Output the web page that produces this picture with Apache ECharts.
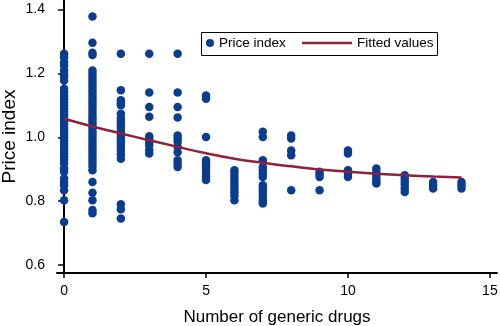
<!DOCTYPE html>
<html>
<head>
<meta charset="utf-8">
<script src="https://cdn.jsdelivr.net/npm/echarts@6/dist/echarts.min.js"></script>
<style>
    html, body { margin: 0; padding: 0; background: #fff; }
    #chart { width: 500px; height: 326px; }
</style>
</head>
<body>
<div id="chart"></div>
<script>
// price index, one list per number of generic drugs
const drugs0 = [1.262,1.251,1.235,1.225,1.209,1.199,1.191,1.178,1.152,1.14,1.13,1.12,1.11,1.10,1.09,1.08,1.07,1.06,1.05,1.04,1.03,1.02,1.01,1.00,0.99,0.98,0.97,0.96,0.95,0.94,0.93,0.918,0.902,0.892,0.871,0.860,0.850,0.834,0.803,0.735];
const drugs1 = [1.378,1.296,1.265,1.258,1.209,1.199,1.19,1.18,1.17,1.16,1.15,1.14,1.13,1.12,1.11,1.10,1.09,1.08,1.07,1.06,1.05,1.04,1.03,1.02,1.01,1.00,0.99,0.98,0.97,0.96,0.95,0.94,0.93,0.92,0.91,0.897,0.86,0.826,0.803,0.772,0.762];
const drugs2 = [1.262,1.147,1.116,1.107,1.10,1.074,1.06,1.05,1.04,1.03,1.02,1.01,1.00,0.99,0.98,0.97,0.96,0.947,0.933,0.79,0.775,0.746];
const drugs3 = [1.262,1.14,1.095,1.064,1.003,0.995,0.985,0.975,0.96,0.949];
const drugs4 = [1.262,1.14,1.095,1.062,1.006,0.996,0.986,0.97,0.953,0.928,0.918,0.907];
const drugs5 = [1.131,1.121,1.001,0.928,0.918,0.908,0.898,0.888,0.877,0.866];
const drugs6 = [0.897,0.887,0.877,0.867,0.857,0.847,0.837,0.827,0.817,0.803];
const drugs7 = [1.017,1.001,0.928,0.907,0.897,0.887,0.876,0.85,0.84,0.83,0.82,0.81,0.80,0.793];
const drugs8 = [1.006,0.996,0.959,0.944,0.834];
const drugs9 = [0.892,0.884,0.876,0.834];
const drugs10 = [0.959,0.949,0.897,0.887,0.876];
const drugs11 = [0.902,0.892,0.882,0.872,0.862,0.855];
const drugs12 = [0.881,0.871,0.861,0.851,0.84,0.829];
const drugs13 = [0.86,0.85,0.84];
const drugs14 = [0.86,0.85,0.84];
const priceByDrugs = [drugs0,drugs1,drugs2,drugs3,drugs4,drugs5,drugs6,drugs7,drugs8,drugs9,drugs10,drugs11,drugs12,drugs13,drugs14];

// fitted curve, read at each whole number of generics
const fitX = [0,1,2,3,4,5,6,7,8,9,10,11,12,13,14];
const fitY = [1.058,1.034,1.012,0.991,0.970,0.950,0.933,0.920,0.909,0.899,0.892,0.886,0.881,0.877,0.874];

const xTicks = [0,5,10,15];
const yTicks = [0.6,0.8,1.0,1.2,1.4];

let scatterData = [];
priceByDrugs.forEach((list, n) => {
    list.forEach(v => scatterData.push([n, v]));
});
let lineData = fitX.map((x, i) => [x, fitY[i]]);

const dotColor = '#0B3D8F';
const lineColor = '#8E2239';
const font = 'Liberation Sans, Arial, sans-serif';

const myChart = echarts.init(document.getElementById('chart'));
myChart.setOption({
    backgroundColor: '#fff',
    animation: false,
    grid: {
        left: 57,
        right: 3,
        top: 0,
        bottom: 53,
        containLabel: false,
        outerBoundsMode: 'none'
    },
    graphic: [{
        type: 'rect',
        left: 201,
        top: 32,
        shape: { width: 236, height: 23 },
        style: { fill: '#fff', stroke: '#000', lineWidth: 1 },
        z: 0
    }],
    legend: [{
        data: [{ name: 'Price index', icon: 'circle' }],
        left: 206,
        top: 36,
        padding: 0,
        itemWidth: 8,
        itemHeight: 8,
        textStyle: { fontFamily: font, fontSize: 13.5, color: '#000' },
        z: 5
    }, {
        data: [{ name: 'Fitted values', icon: 'rect' }],
        left: 302,
        top: 36,
        padding: 0,
        itemWidth: 50,
        itemHeight: 2.5,
        textStyle: { fontFamily: font, fontSize: 13.5, color: '#000' },
        z: 5
    }],
    xAxis: {
        type: 'value',
        min: -0.25,
        max: 15.25,
        name: 'Number of generic drugs',
        nameLocation: 'middle',
        nameGap: 36,
        nameMoveOverlap: false,
        nameTextStyle: { fontFamily: font, fontSize: 17, color: '#000' },
        axisLine: { lineStyle: { color: '#000', width: 2 } },
        axisTick: { customValues: xTicks, length: 5, lineStyle: { color: '#000', width: 1.5 } },
        axisLabel: {
            customValues: xTicks,
            margin: 11,
            fontFamily: font,
            fontSize: 14,
            color: '#000'
        },
        splitLine: { show: false }
    },
    yAxis: {
        type: 'value',
        min: 0.575,
        max: 1.43,
        name: 'Price index',
        nameLocation: 'middle',
        nameGap: 38,
        nameMoveOverlap: false,
        nameTextStyle: { fontFamily: font, fontSize: 19, color: '#000' },
        axisLine: { show: true, lineStyle: { color: '#000', width: 2 } },
        axisTick: { show: true, customValues: yTicks, length: 6, lineStyle: { color: '#000', width: 1.5 } },
        axisLabel: {
            customValues: yTicks,
            margin: 12,
            fontFamily: font,
            fontSize: 14,
            color: '#000',
            formatter: v => Number(v).toFixed(1)
        },
        splitLine: { show: false }
    },
    series: [
        {
            name: 'Price index',
            type: 'scatter',
            symbolSize: 8.5,
            itemStyle: { color: dotColor, opacity: 1 },
            data: scatterData,
            z: 2
        },
        {
            name: 'Fitted values',
            type: 'line',
            smooth: true,
            symbol: 'none',
            lineStyle: { color: lineColor, width: 2.5 },
            itemStyle: { color: lineColor },
            data: lineData,
            z: 3
        }
    ]
});
</script>
</body>
</html>
